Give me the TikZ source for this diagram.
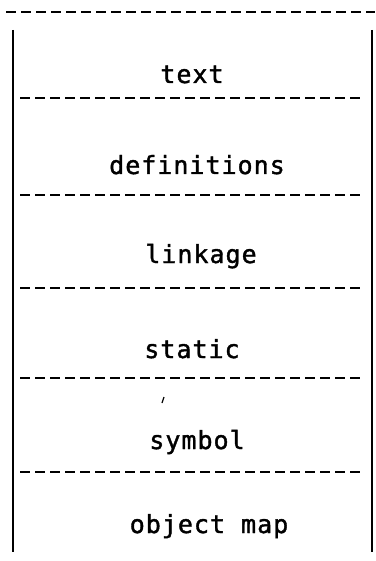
\documentclass[tikz,border=0pt]{standalone}
\usepackage{fontspec}
\newfontfamily\printfont[LetterSpace=4,FakeBold=1.5]{DejaVu Sans Mono}
\tikzset{
  rule/.style={line width=2.5pt, dash pattern=on 10pt off 5pt},
  side/.style={line width=1.7pt},
  segname/.style={font=\printfont\fontsize{25}{25}\selectfont, anchor=base, inner sep=0pt}
}
\begin{document}
\begin{tikzpicture}[x=1pt, y=-1pt]
  \useasboundingbox (0,0) rectangle (375,561);
  % outer frame: dashed top edge and two side walls
  \draw[rule] (6,12) -- (375,12);
  \draw[side] (13,30) -- (13,552);
  \draw[side] (372,30) -- (372,552);
  % section separators
  \foreach \y in {98,195,288,378,472}
    \draw[rule] (20,\y) -- (364,\y);
  % section names
  \node[segname] (text) at (192,83) {text};
  \node[segname] (defs) at (197,174) {definitions};
  \node[segname] (link) at (201,263) {linkage};
  \node[segname] (stat) at (192,358) {static};
  \node[segname] (symb) at (197,449) {symbol};
  \node[segname] (omap) at (209,533) {object map};
  % stray tick
  \draw[line width=1.2pt] (162,403) -- (164,397);
\end{tikzpicture}
\end{document}
